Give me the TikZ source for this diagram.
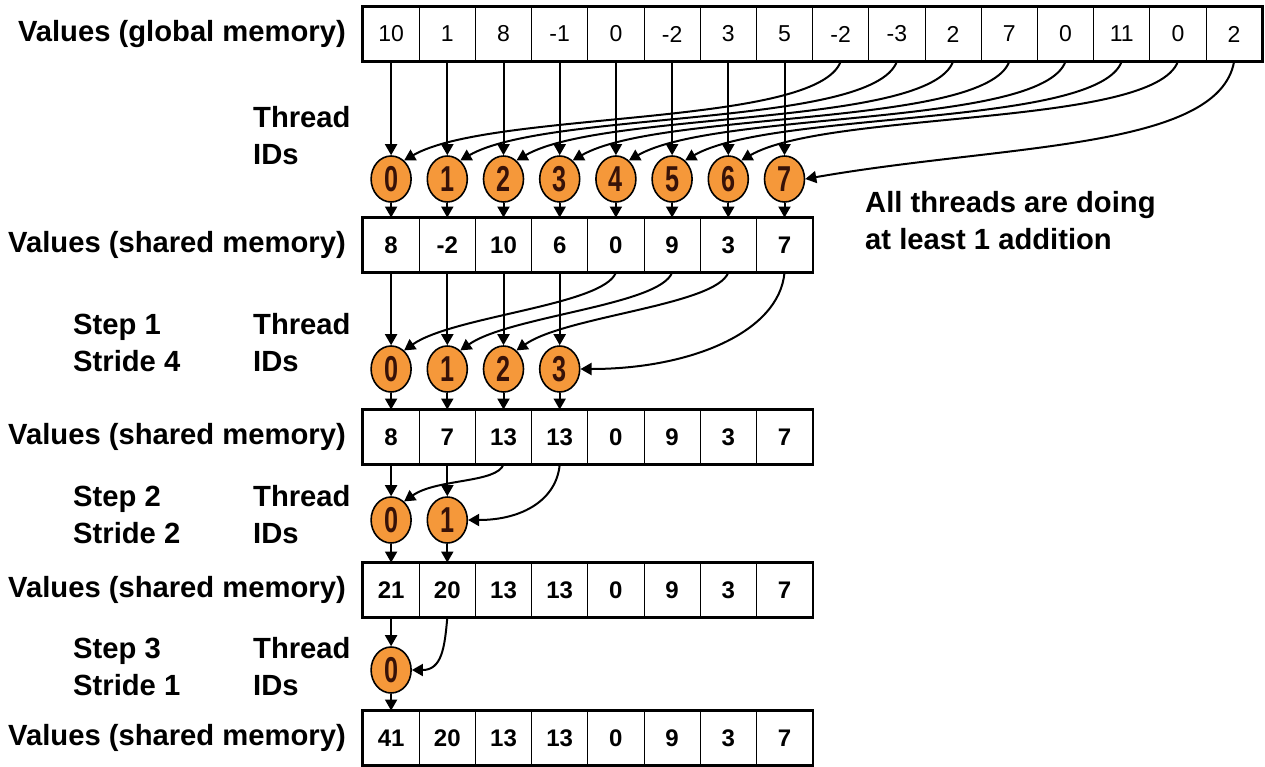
\documentclass[tikz,border=0pt]{standalone}
\usepackage{fontspec}
\setmainfont{Liberation Sans}
\newfontfamily\tidfont{Liberation Sans}[FakeStretch=0.7]
\usetikzlibrary{
  shapes.geometric,
  positioning,
  calc,
  arrows.meta}
\definecolor{threadcolor}{RGB}{245,152,58}
\definecolor{digitcolor}{RGB}{55,18,8}
\tikzset{
  %% gcell : a cell of the global memory array
  gcell/.style={
    rectangle,
    draw=black,
    line width=0.9pt,
    minimum width=56.2pt,
    minimum height=54pt,
    inner sep=0pt,
    font=\fontsize{23}{23}\selectfont
  },
  %% scell : a cell of a shared memory array
  scell/.style={
    gcell,
    font=\bfseries\fontsize{24}{24}\selectfont
  },
  %% thread : a thread ID
  thread/.style={
    ellipse,
    draw=black,
    line width=1.6pt,
    fill=threadcolor,
    minimum width=40pt,
    minimum height=46pt,
    inner sep=0pt,
    text=digitcolor,
    font=\tidfont\bfseries\fontsize{36}{36}\selectfont
  },
  %% rowlabel : caption left of an array
  rowlabel/.style={
    anchor=east,
    inner sep=0pt,
    font=\bfseries\fontsize{29.2}{37}\selectfont
  },
  %% sidelabel : two line captions (thread IDs, steps, note)
  sidelabel/.style={
    anchor=west,
    align=left,
    inner sep=0pt,
    font=\bfseries\fontsize{29.2}{37}\selectfont
  },
  %% link : data moved to or from a thread
  link/.style={
    -{Triangle[length=11pt,width=12pt]},
    line width=2pt
  },
  %% rowframe : thick border round an array
  %% This is a path, use as
  %%    \draw [rowframe] (first.north west) rectangle (last.south east);
  rowframe/.style={line width=2.8pt}
}

\begin{document}
\begin{tikzpicture}
  [x=1pt,
  y=-1pt]

  \useasboundingbox (0, 0) rectangle (1265, 766);

  %% Grid for orientation. Comment out for final figure!
  % \draw[help lines, green](0, 0) grid [step=50] (1265, 766);

  %% Arrays
  \foreach \v [count=\i from 0] in {10,1,8,-1,0,-2,3,5,-2,-3,2,7,0,11,0,2}
    \node (glob-\i) [gcell] at ({391.1+56.2*\i}, 34) {\v};
  \foreach \v [count=\i from 0] in {8,-2,10,6,0,9,3,7}
    \node (shA-\i) [scell] at ({391.1+56.2*\i}, 245) {\v};
  \foreach \v [count=\i from 0] in {8,7,13,13,0,9,3,7}
    \node (shB-\i) [scell] at ({391.1+56.2*\i}, 437) {\v};
  \foreach \v [count=\i from 0] in {21,20,13,13,0,9,3,7}
    \node (shC-\i) [scell] at ({391.1+56.2*\i}, 590) {\v};
  \foreach \v [count=\i from 0] in {41,20,13,13,0,9,3,7}
    \node (shD-\i) [scell] at ({391.1+56.2*\i}, 738) {\v};

  \draw [rowframe] (glob-0.north west) rectangle (glob-15.south east);
  \draw [rowframe] (shA-0.north west) rectangle (shA-7.south east);
  \draw [rowframe] (shB-0.north west) rectangle (shB-7.south east);
  \draw [rowframe] (shC-0.north west) rectangle (shC-7.south east);
  \draw [rowframe] (shD-0.north west) rectangle (shD-7.south east);

  %% Threads
  \foreach \i in {0,...,7}
    \node (tA-\i) [thread] at ({391.1+56.2*\i}, 179) {\i};
  \foreach \i in {0,...,3}
    \node (tB-\i) [thread] at ({391.1+56.2*\i}, 369) {\i};
  \foreach \i in {0,1}
    \node (tC-\i) [thread] at ({391.1+56.2*\i}, 520) {\i};
  \node (tD-0) [thread] at (391.1, 670) {0};

  %% Captions
  \node (glob label) [rowlabel] at (346, 34) {Values (global memory)};
  \node (shA label) [rowlabel] at (346, 245) {Values (shared memory)};
  \node (shB label) [rowlabel] at (346, 437) {Values (shared memory)};
  \node (shC label) [rowlabel] at (346, 590) {Values (shared memory)};
  \node (shD label) [rowlabel] at (346, 738) {Values (shared memory)};

  \node (tA label) [sidelabel] at (253, 136) {Thread\\IDs};
  \node (tB label) [sidelabel] at (253, 343) {Thread\\IDs};
  \node (tC label) [sidelabel] at (253, 515) {Thread\\IDs};
  \node (tD label) [sidelabel] at (253, 667) {Thread\\IDs};

  \node (stepB label) [sidelabel] at (73, 343) {Step 1\\Stride 4};
  \node (stepC label) [sidelabel] at (73, 515) {Step 2\\Stride 2};
  \node (stepD label) [sidelabel] at (73, 667) {Step 3\\Stride 1};

  \node (note) [sidelabel] at (865, 221) {%
    All threads are doing\\
    at least 1 addition};

  %% Connections (y points down, so angles are mirrored)
  %% Load from global memory
  \foreach \i in {0,...,7}
    \draw [link] (glob-\i) -- (tA-\i);
  \foreach \i [evaluate=\i as \j using int(\i+8)] in {0,...,6}
    \draw [link] (glob-\j.south) .. controls +(110:70) and +(-30:100) .. (tA-\i.55);
  \draw [link] (glob-15.south) .. controls +(100:90) and +(-10:200) .. (tA-7.east);
  \foreach \i in {0,...,7}
    \draw [link] (tA-\i) -- (shA-\i);

  %% Step 1
  \foreach \i in {0,...,3}
    \draw [link] (shA-\i) -- (tB-\i);
  \foreach \i [evaluate=\i as \j using int(\i+4)] in {0,1,2}
    \draw [link] (shA-\j.south) .. controls +(110:35) and +(-35:60) .. (tB-\i.55);
  \draw [link] (shA-7.south) .. controls +(95:60) and +(0:110) .. (tB-3.east);
  \foreach \i in {0,...,3}
    \draw [link] (tB-\i) -- (shB-\i);

  %% Step 2
  \foreach \i in {0,1}
    \draw [link] (shB-\i) -- (tC-\i);
  \draw [link] (shB-2.south) .. controls +(110:20) and +(-35:40) .. (tC-0.55);
  \draw [link] (shB-3.south) .. controls +(95:35) and +(0:55) .. (tC-1.east);
  \foreach \i in {0,1}
    \draw [link] (tC-\i) -- (shC-\i);

  %% Step 3
  \draw [link] (shC-0) -- (tD-0);
  \draw [link] (shC-1.south) .. controls +(95:30) and +(0:30) .. (tD-0.east);
  \draw [link] (tD-0) -- (shD-0);

\end{tikzpicture}
\end{document}
